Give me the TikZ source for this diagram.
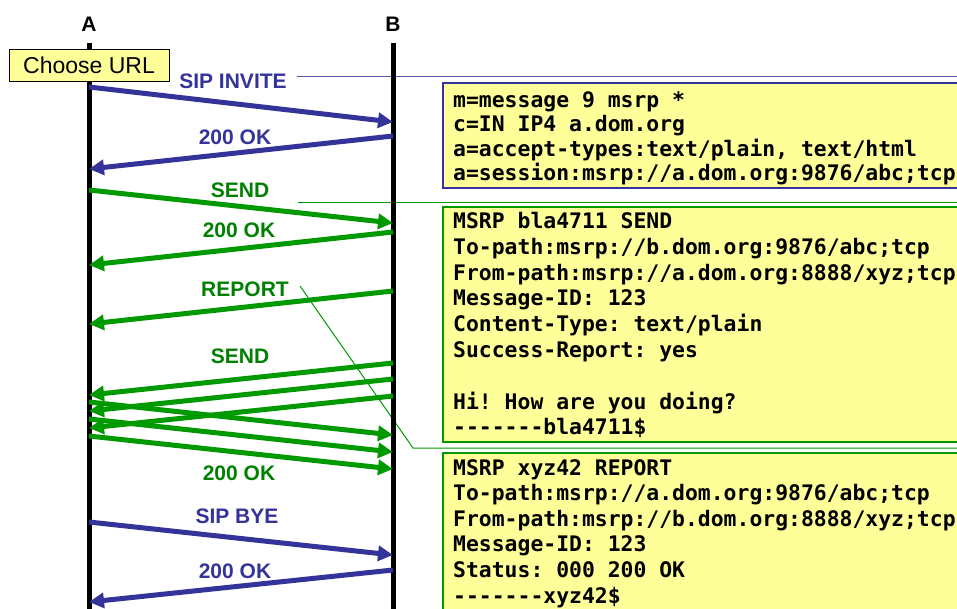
\documentclass[tikz,border=0pt]{standalone}
\usepackage{fontspec}
\setmainfont{Liberation Sans}
\setmonofont{DejaVu Sans Mono}
\usetikzlibrary{arrows.meta}
\definecolor{sipblue}{HTML}{333399}
\definecolor{leadblue}{HTML}{5555AA}
\definecolor{msrpgreen}{HTML}{009900}
\definecolor{lblgreen}{HTML}{008000}
\definecolor{noteyellow}{HTML}{FFFF99}
\begin{document}
\begin{tikzpicture}[x=1pt,y=-1pt,
  lifeline/.style={line width=5pt, draw=black},
  msg/.style={line width=5pt, -{Triangle[length=15pt,width=15pt]}},
  sipmsg/.style={msg, draw=sipblue},
  msrpmsg/.style={msg, draw=msrpgreen},
  lbl/.style={font=\bfseries\fontsize{21}{25}\selectfont, inner sep=0pt},
  siplbl/.style={lbl, text=sipblue},
  msrplbl/.style={lbl, text=lblgreen},
  actor/.style={font=\bfseries\fontsize{21}{25}\selectfont, inner sep=0pt},
  sipthin/.style={draw=leadblue, line width=1pt},
  msrpthin/.style={draw=msrpgreen, line width=1pt},
  notebox/.style={rectangle, fill=noteyellow, line width=1.5pt, inner sep=0pt, minimum width=540pt, anchor=north west},
  notetext/.style={font=\ttfamily\bfseries\fontsize{21.4}{25.8}\selectfont, align=left, inner sep=0pt, anchor=north west},
]
\path[use as bounding box] (0,0) rectangle (957,608);
\clip (0,0) rectangle (957,608);

% actor labels
\node[actor] (A) at (89,24) {A};
\node[actor] (B) at (393,24) {B};

% leader lines (under lifelines)
\coordinate (invL) at (297,76);
\coordinate (invR) at (960,76);
\draw[sipthin] (invL) -- (invR);
\coordinate (sendL) at (298,202);
\coordinate (sendR) at (960,202);
\draw[msrpthin] (sendL) -- (sendR);
\coordinate (repL) at (300,286);
\coordinate (repK) at (413,448);
\coordinate (repR) at (960,448);
\draw[msrpthin] (repL) -- (repK) -- (repR);

% lifelines
\coordinate (Atop) at (89,43);
\coordinate (Abot) at (89,615);
\coordinate (Btop) at (393,43);
\coordinate (Bbot) at (393,615);
\draw[lifeline] (Atop) -- (Abot);
\draw[lifeline] (Btop) -- (Bbot);

% Choose URL
\node[draw=black, fill=noteyellow, line width=1pt, minimum width=160pt, minimum height=32pt,
      inner sep=0pt, font=\fontsize{23}{27}\selectfont] (url) at (89,65) {Choose URL};

% SIP INVITE
\coordinate (inv1) at (89,87);
\coordinate (inv2) at (393,122);
\draw[sipmsg] (inv1) -- (inv2);
\node[siplbl] (invlbl) at (233,81) {SIP INVITE};

% 200 OK (SIP)
\coordinate (ok1a) at (393,136);
\coordinate (ok1b) at (89,169);
\draw[sipmsg] (ok1a) -- (ok1b);
\node[siplbl] (ok1lbl) at (235,137) {200 OK};

% SEND
\coordinate (snd1) at (89,190);
\coordinate (snd2) at (393,223);
\draw[msrpmsg] (snd1) -- (snd2);
\node[msrplbl] (sndlbl) at (240,190) {SEND};

% 200 OK (MSRP)
\coordinate (ok2a) at (393,232);
\coordinate (ok2b) at (89,265);
\draw[msrpmsg] (ok2a) -- (ok2b);
\node[msrplbl] (ok2lbl) at (239,230) {200 OK};

% REPORT
\coordinate (rep1) at (393,291);
\coordinate (rep2) at (89,324);
\draw[msrpmsg] (rep1) -- (rep2);
\node[msrplbl] (replbl) at (245,289) {REPORT};

% SEND x3 (B -> A)
\coordinate (s1a) at (393,363);
\coordinate (s1b) at (89,395);
\coordinate (s2a) at (393,379);
\coordinate (s2b) at (89,411);
\coordinate (s3a) at (393,396);
\coordinate (s3b) at (89,428);
\draw[msrpmsg] (s1a) -- (s1b);
\draw[msrpmsg] (s2a) -- (s2b);
\draw[msrpmsg] (s3a) -- (s3b);
\node[msrplbl] (s3lbl) at (240,356) {SEND};

% 200 OK x3 (A -> B)
\coordinate (o1a) at (89,402);
\coordinate (o1b) at (393,435);
\coordinate (o2a) at (89,419);
\coordinate (o2b) at (393,452);
\coordinate (o3a) at (89,436);
\coordinate (o3b) at (393,469);
\draw[msrpmsg] (o1a) -- (o1b);
\draw[msrpmsg] (o2a) -- (o2b);
\draw[msrpmsg] (o3a) -- (o3b);
\node[msrplbl] (o3lbl) at (239,473) {200 OK};

% SIP BYE
\coordinate (bye1) at (89,522);
\coordinate (bye2) at (393,555);
\draw[sipmsg] (bye1) -- (bye2);
\node[siplbl] (byelbl) at (237,516) {SIP BYE};

% 200 OK (BYE)
\coordinate (ok3a) at (393,570);
\coordinate (ok3b) at (89,602);
\draw[sipmsg] (ok3a) -- (ok3b);
\node[siplbl] (ok3lbl) at (235,571) {200 OK};

% note boxes
\node[notebox, draw=sipblue, minimum height=105pt] (sdpbox) at (442,82) {};
\node[notetext, font=\ttfamily\bfseries\fontsize{21.4}{24.6}\selectfont] (sdptext) at (453,91) {m=message 9 msrp *\\
c=IN IP4 a.dom.org\\
a=accept-types:text/plain, text/html\\
a=session:msrp://a.dom.org:9876/abc;tcp};

\node[notebox, draw=msrpgreen, minimum height=235pt] (sendbox) at (442,206) {};
\node[notetext] (sendtext) at (453,212) {MSRP bla4711 SEND\\
To-path:msrp://b.dom.org:9876/abc;tcp\\
From-path:msrp://a.dom.org:8888/xyz;tcp\\
Message-ID: 123\\
Content-Type: text/plain\\
Success-Report: yes\\[25.8pt]
Hi! How are you doing?\\
-------bla4711\$};

\node[notebox, draw=msrpgreen, minimum height=170pt] (repbox) at (442,452) {};
\node[notetext, font=\ttfamily\bfseries\fontsize{21.4}{25.6}\selectfont] (reptext) at (453,459) {MSRP xyz42 REPORT\\
To-path:msrp://a.dom.org:9876/abc;tcp\\
From-path:msrp://b.dom.org:8888/xyz;tcp\\
Message-ID: 123\\
Status: 000 200 OK\\
-------xyz42\$};
\end{tikzpicture}
\end{document}
